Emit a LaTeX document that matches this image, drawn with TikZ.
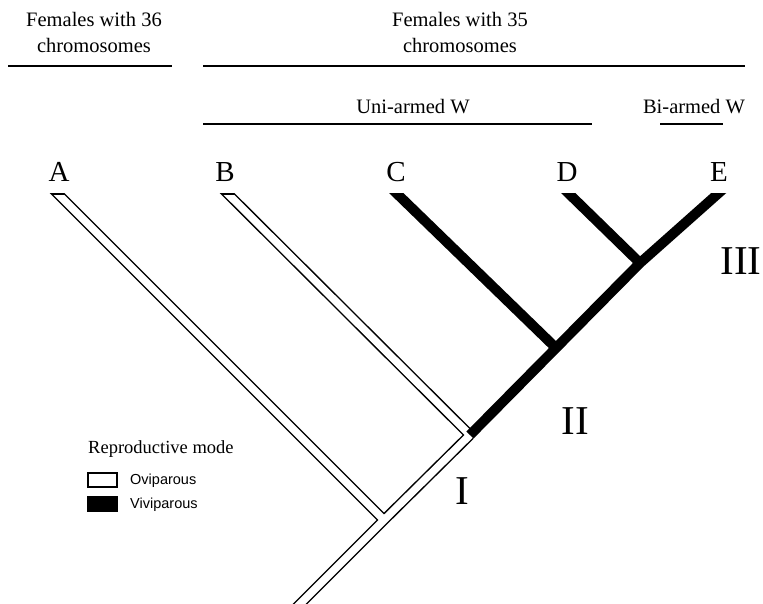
\documentclass[tikz,border=0pt]{standalone}
\usepackage{fontspec}
\setmainfont{Liberation Serif}
\setsansfont{Liberation Sans}
\begin{document}
\begin{tikzpicture}[x=1pt,y=-1pt,
  header/.style={font=\fontsize{20.5}{26}\selectfont, align=center, inner sep=0pt},
  taxon/.style={font=\fontsize{29}{29}\selectfont, inner sep=0pt},
  node label/.style={font=\fontsize{41}{41}\selectfont, inner sep=0pt},
  rule/.style={line width=1.5pt},
  hollowout/.style={line width=10.5pt, black},
  hollowin/.style={line width=7.5pt, white},
  solidbar/.style={line width=10pt, black},
  keytitle/.style={font=\fontsize{18.5}{20}\selectfont, inner sep=0pt, anchor=west},
  keytext/.style={font=\sffamily\fontsize{14.5}{16}\selectfont, inner sep=0pt, anchor=west},
  keybox/.style={line width=1.5pt, minimum width=29pt, minimum height=14pt, inner sep=0pt, draw}]
\useasboundingbox (0,0) rectangle (763,603);

% group headings
\node[header] (h36) at (94,32) {Females with 36\\chromosomes};
\node[header] (h35) at (460,32) {Females with 35\\chromosomes};
\draw[rule] (8,66) -- (172,66);
\draw[rule] (203,66) -- (745,66);
\node[header] (uni) at (413,107) {Uni-armed W};
\node[header] (bi) at (694,107) {Bi-armed W};
\draw[rule] (203,124) -- (592,124);
\draw[rule] (660,124) -- (723,124);

% tree geometry
\coordinate (root) at (294,610);
\coordinate (J1) at (384,520);
\coordinate (J2) at (470,435);
\coordinate (J3) at (556,348);
\coordinate (J4) at (640,263);
\coordinate (Et) at (730,183);
\coordinate (At) at (50,186);
\coordinate (Bt) at (220,186);
\coordinate (Ct) at (389,186);
\coordinate (Dt) at (561,186);

% taxon labels
\node[taxon] (A) at (59,172) {A};
\node[taxon] (B) at (225,172) {B};
\node[taxon] (C) at (396,172) {C};
\node[taxon] (D) at (567,172) {D};
\node[taxon] (E) at (719,172) {E};

% oviparous branches: outline then interior
\begin{scope}
  \clip (0,193) rectangle (763,603);
  \draw[hollowout] (root) -- (J1) -- (J2);
  \draw[hollowout] (At) -- (J1);
  \draw[hollowout] (Bt) -- (J2);
\end{scope}
\begin{scope}
  \clip (0,195) rectangle (763,603);
  \draw[hollowin] (root) -- (J1) -- (J2);
  \draw[hollowin] (At) -- (J1);
  \draw[hollowin] (Bt) -- (J2);
\end{scope}
% viviparous branches
\begin{scope}
  \clip (0,193) rectangle (763,603);
  \draw[solidbar] (J2) -- (J3) -- (J4) -- (Et);
  \draw[solidbar] (Ct) -- (J3);
  \draw[solidbar] (Dt) -- (J4);
\end{scope}

% node numbers
\node[node label] (n1) at (462,491) {I};
\node[node label] (n2) at (575,421) {II};
\node[node label] (n3) at (741,261) {III};

% legend
\node[keytitle] (key) at (88,449) {Reproductive mode};
\node[keybox, fill=white] (ovi) at (102.5,480) {};
\node[keybox, fill=black] (vivi) at (102.5,504) {};
\node[keytext] at (130,481) {Oviparous};
\node[keytext] at (130,505) {Viviparous};
\end{tikzpicture}
\end{document}
